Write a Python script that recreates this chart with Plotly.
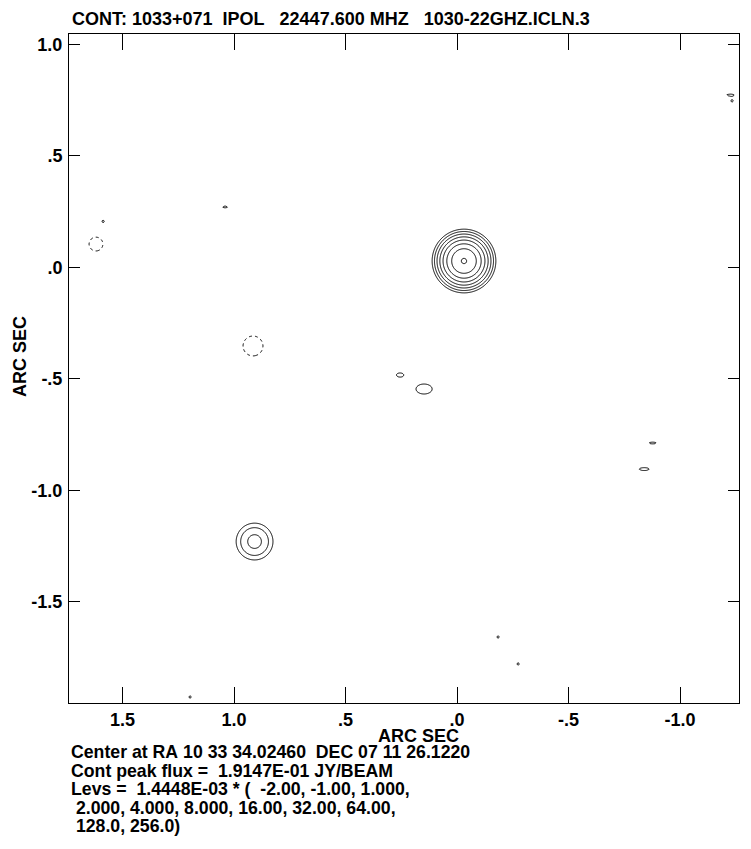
import numpy as np
import plotly.graph_objects as go

# ---- data -------------------------------------------------------------
base_level = 1.4448e-03                      # JY/BEAM
levels = [-2.0, -1.0, 1.0, 2.0, 4.0, 8.0, 16.0, 32.0, 64.0, 128.0, 256.0]
peak_flux = 1.9147e-01

# map components (offset in arcsec, peak in units of base level, widths in arcsec)
comp_x  = [-0.031, 0.908, 1.619, 1.587, 1.040, 0.915, 0.256, 0.148, -0.877, -0.839, -1.224, -1.233, -0.184, -0.274, 1.197]
comp_y  = [ 0.029, -1.229, 0.105, 0.206, 0.271, -0.352, -0.482, -0.545, -0.787, -0.904, 0.774, 0.747, -1.657, -1.778, -1.926]
comp_pk = [peak_flux / base_level, 5.0, -1.35, 1.15, 1.15, -1.6, 1.2, 1.3, 1.1, 1.15, 1.1, 1.1, 1.1, 1.1, 1.1]
comp_sx = [0.0457, 0.046, 0.040, 0.012, 0.020, 0.046, 0.026, 0.050, 0.036, 0.042, 0.031, 0.012, 0.012, 0.012, 0.012]
comp_sy = [0.0457, 0.046, 0.040, 0.012, 0.008, 0.046, 0.015, 0.031, 0.010, 0.0127, 0.008, 0.012, 0.012, 0.012, 0.012]

x_ticks = [1.5, 1.0, 0.5, 0.0, -0.5, -1.0]
x_tick_text = ["1.5", "1.0", ".5", ".0", "-.5", "-1.0"]
y_ticks = [1.0, 0.5, 0.0, -0.5, -1.0, -1.5]
y_tick_text = ["1.0", ".5", ".0", "-.5", "-1.0", "-1.5"]

title_text = "CONT: 1033+071  IPOL   22447.600 MHZ   1030-22GHZ.ICLN.3"
footer_lines = [
    "Center at RA 10 33 34.02460  DEC 07 11 26.1220",
    "Cont peak flux =  1.9147E-01 JY/BEAM",
    "Levs =  1.4448E-03 * (  -2.00, -1.00, 1.000,",
    " 2.000, 4.000, 8.000, 16.00, 32.00, 64.00,",
    " 128.0, 256.0)",
]
axis_title = "ARC SEC"

# ---- field ------------------------------------------------------------
x_range = [1.740, -1.264]
y_range = [-1.953, 1.047]
step = 0.005
xs = np.arange(-1.27, 1.745, step)
ys = np.arange(-1.96, 1.05, step)
X, Y = np.meshgrid(xs, ys)
Z = np.zeros_like(X)
for cx, cy, pk, sx, sy in zip(comp_x, comp_y, comp_pk, comp_sx, comp_sy):
    Z += pk * np.exp(-0.5 * ((X - cx) / sx) ** 2 - 0.5 * ((Y - cy) / sy) ** 2)

pos_levels = [l for l in levels if l > 0]
neg_levels = [-l for l in levels if l < 0]
zpos = np.log2(np.maximum(Z, 1e-6)).astype(np.float32)
zneg = np.log2(np.maximum(-Z, 1e-6)).astype(np.float32)

fig = go.Figure()
fig.add_trace(go.Contour(
    x=xs, y=ys, z=zpos,
    contours=dict(start=np.log2(min(pos_levels)), end=np.log2(max(pos_levels)), size=1, coloring="none"),
    line=dict(color="black", width=1, smoothing=0.6),
    showscale=False, hoverinfo="skip"))
fig.add_trace(go.Contour(
    x=xs, y=ys, z=zneg,
    contours=dict(start=np.log2(min(neg_levels)), end=np.log2(max(neg_levels)), size=1, coloring="none"),
    line=dict(color="black", width=1, dash="3px,3px", smoothing=0.6),
    showscale=False, hoverinfo="skip"))

FONT = "Liberation Sans, Arial, Helvetica, sans-serif"
OFF = 8  # page body margin
W, H = 751 - OFF, 849 - OFF
L, R, T, B = 69 - OFF, 739 - OFF, 34 - OFF, 703 - OFF

def px2paper(px, py):
    # px, py in page pixels
    px -= OFF
    py -= OFF
    return (px - L) / (R - L), (B - py) / (B - T)

annotations = []
tx, ty = px2paper(70, 19)
annotations.append(dict(text=title_text.replace(" ", "\u00a0"), x=tx, y=ty, xref="paper", yref="paper",
                        xanchor="left", yanchor="middle", showarrow=False,
                        font=dict(family=FONT, size=18, color="black", weight="bold")))
for i, line in enumerate(footer_lines):
    fx, fy = px2paper(69, 752 + 18.5 * i)
    annotations.append(dict(text=line.replace(" ", "\u00a0"), x=fx, y=fy, xref="paper", yref="paper",
                            xanchor="left", yanchor="middle", showarrow=False,
                            font=dict(family=FONT, size=17.7, color="black", weight="bold")))
ax, ay = px2paper(418, 736)
annotations.append(dict(text=axis_title, x=ax, y=ay, xref="paper", yref="paper",
                        xanchor="center", yanchor="middle", showarrow=False,
                        font=dict(family=FONT, size=18, color="black", weight="bold")))
bx, by = px2paper(20, 356)
annotations.append(dict(text=axis_title, x=bx, y=by, xref="paper", yref="paper", textangle=-90,
                        xanchor="center", yanchor="middle", showarrow=False,
                        font=dict(family=FONT, size=18, color="black", weight="bold")))

tickfont = dict(family=FONT, size=18, color="black", weight="bold")
fig.update_layout(
    template="none",
    width=W, height=H,
    margin=dict(l=L, r=W - R, t=T, b=H - B, pad=0, autoexpand=False),
    paper_bgcolor="white", plot_bgcolor="white",
    showlegend=False,
    annotations=annotations,
    xaxis=dict(range=x_range, automargin=False, showgrid=False, zeroline=False, showline=True, linecolor="black", linewidth=1,
               mirror="ticks", ticks="inside", ticklen=16, tickwidth=1, tickcolor="black",
               tickvals=x_ticks, ticktext=x_tick_text, tickfont=tickfont, ticklabelstandoff=0),
    yaxis=dict(range=y_range, automargin=False, showgrid=False, zeroline=False, showline=True, linecolor="black", linewidth=1,
               mirror="ticks", ticks="inside", ticklen=11, tickwidth=1, tickcolor="black",
               tickvals=y_ticks, ticktext=y_tick_text, tickfont=tickfont, ticklabelstandoff=2),
)

fig.write_html("out.html")
